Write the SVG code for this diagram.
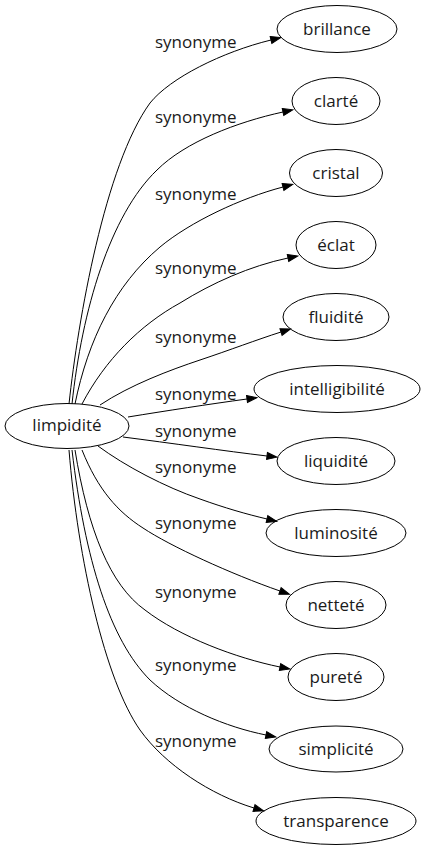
<svg xmlns="http://www.w3.org/2000/svg" width="424" height="851" viewBox="0 0 424 851">
<style>
.n ellipse{fill:none;stroke:#000;stroke-width:1}
text{font-family:"Open Sans","DejaVu Sans",sans-serif;font-size:17px;fill:#1a1a1a}
.n text{text-anchor:middle}
.e path{fill:none;stroke:#000;stroke-width:1;marker-end:url(#arr)}
</style>
<defs>
<marker id="arr" markerUnits="userSpaceOnUse" markerWidth="10" markerHeight="8" refX="0" refY="3.5" orient="auto" overflow="visible">
<polygon points="0,0 10,3.5 0,7" fill="#000" stroke="#000" stroke-width="1"/>
</marker>
</defs>
<rect width="424" height="851" fill="#fff"/>
<g id="edges" class="e">
<path d="M69,404 C78,320 105,165 150,103 C170,78 222,52 271,40"/>
<path d="M72,404 C82,310 110,215 157,170 C185,142 237,122 283,112"/>
<path d="M75,404 C88,340 115,285 160,247 C190,222 241,198 283,187"/>
<path d="M82,404 C105,360 140,325 180,303 C212,283 250,266 288,258"/>
<path d="M100,405 C130,385 170,370 200,360 C230,350 256,340 281,332"/>
<path d="M128,417 C165,411 210,404 247,399"/>
<path d="M123,437 C170,443 225,451 267,456"/>
<path d="M98,446 C125,466 165,487 200,499 C225,508 246,514 267,519"/>
<path d="M82,450 C98,490 118,512 143,528 C170,546 231,574 280,591"/>
<path d="M75,450 C88,530 110,585 145,610 C180,637 236,658 280,667"/>
<path d="M72,450 C85,560 110,640 150,680 C180,708 226,727 266,735"/>
<path d="M69,450 C78,560 105,680 140,730 C165,765 211,795 254,808"/>
<text x="155" y="48">synonyme</text>
<text x="155" y="123">synonyme</text>
<text x="155" y="200">synonyme</text>
<text x="155" y="274">synonyme</text>
<text x="155" y="343">synonyme</text>
<text x="155" y="400">synonyme</text>
<text x="155" y="437">synonyme</text>
<text x="155" y="473">synonyme</text>
<text x="155" y="529">synonyme</text>
<text x="155" y="598">synonyme</text>
<text x="155" y="671">synonyme</text>
<text x="155" y="747">synonyme</text>
</g>
<g id="limpidite" class="n"><ellipse cx="67" cy="426" rx="62" ry="22.5"/><text x="67" y="431">limpidité</text></g>
<g id="brillance" class="n"><ellipse cx="337" cy="29" rx="60" ry="23.5"/><text x="337" y="35">brillance</text></g>
<g id="clarte" class="n"><ellipse cx="336" cy="101" rx="44" ry="23.5"/><text x="336" y="107">clarté</text></g>
<g id="cristal" class="n"><ellipse cx="336" cy="173" rx="46.5" ry="23.5"/><text x="336" y="179">cristal</text></g>
<g id="eclat" class="n"><ellipse cx="336" cy="245" rx="40" ry="23.5"/><text x="336" y="251">éclat</text></g>
<g id="fluidite" class="n"><ellipse cx="336" cy="317" rx="53" ry="23.5"/><text x="336" y="323">fluidité</text></g>
<g id="intelligibilite" class="n"><ellipse cx="337" cy="389" rx="83" ry="23.5"/><text x="337" y="395">intelligibilité</text></g>
<g id="liquidite" class="n"><ellipse cx="336" cy="461" rx="59" ry="23.5"/><text x="336" y="467">liquidité</text></g>
<g id="luminosite" class="n"><ellipse cx="336" cy="533" rx="70" ry="23.5"/><text x="336" y="539">luminosité</text></g>
<g id="nettete" class="n"><ellipse cx="336" cy="605" rx="50" ry="23.5"/><text x="336" y="611">netteté</text></g>
<g id="purete" class="n"><ellipse cx="336" cy="677" rx="48" ry="23.5"/><text x="336" y="683">pureté</text></g>
<g id="simplicite" class="n"><ellipse cx="336" cy="749" rx="67" ry="23"/><text x="336" y="755">simplicité</text></g>
<g id="transparence" class="n"><ellipse cx="336" cy="821" rx="80" ry="23.5"/><text x="336" y="827">transparence</text></g>
</svg>
